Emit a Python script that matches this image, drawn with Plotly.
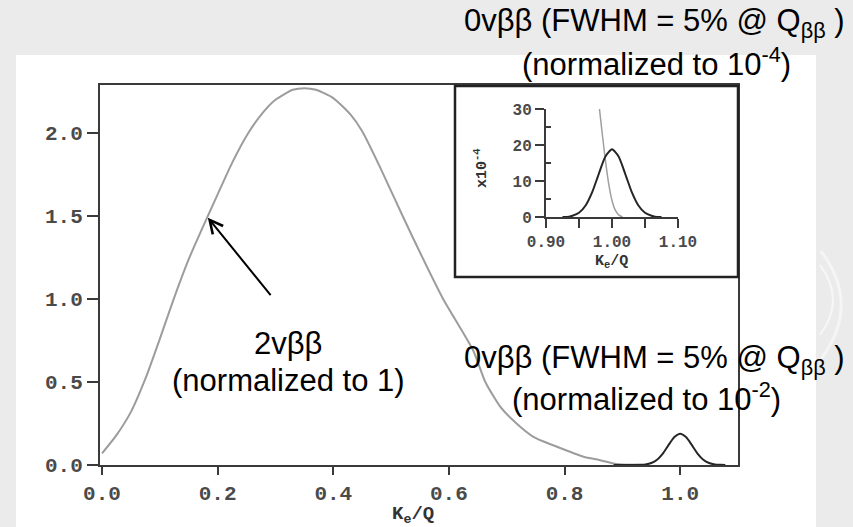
import plotly.graph_objects as go

W, H = 853, 527

# 2vββ summed electron energy spectrum, normalized to 1
k2v = [0.000, 0.025, 0.050, 0.075, 0.100, 0.125, 0.150, 0.183, 0.200, 0.225,
       0.253, 0.280, 0.300, 0.330, 0.350, 0.370, 0.400, 0.430, 0.450, 0.480,
       0.520, 0.550, 0.590, 0.642, 0.663, 0.689, 0.717, 0.746, 0.787, 0.833,
       0.860, 0.890, 0.919]
f2v = [0.07, 0.18, 0.32, 0.52, 0.76, 1.01, 1.24, 1.50, 1.63, 1.82,
       2.00, 2.13, 2.20, 2.26, 2.27, 2.26, 2.21, 2.11, 2.01, 1.80,
       1.50, 1.28, 1.00, 0.69, 0.50, 0.35, 0.25, 0.17, 0.11, 0.05,
       0.03, 0.006, 0.0]

# 0vββ peak (FWHM = 5% @ Qββ), normalized to 1e-2
k0v = [0.885, 0.930, 0.940, 0.950, 0.960, 0.970, 0.980, 0.990, 1.000,
       1.010, 1.020, 1.030, 1.040, 1.050, 1.060, 1.070, 1.078]
f0v = [0.0, 0.001, 0.003, 0.012, 0.032, 0.069, 0.121, 0.168, 0.188,
       0.168, 0.121, 0.069, 0.032, 0.012, 0.003, 0.001, 0.0]

# inset: endpoint region, in units of 1e-4
k2v_end = [0.981, 0.985, 0.990, 0.995, 1.000, 1.005, 1.010, 1.016]
f2v_end = [30.0, 23.5, 15.8, 9.2, 4.6, 1.9, 0.6, 0.0]

k0v_end = [0.925, 0.935, 0.940, 0.950, 0.960, 0.970, 0.980, 0.990, 1.000,
           1.010, 1.020, 1.030, 1.040, 1.050, 1.060, 1.065, 1.075]
f0v_end = [0.0, 0.1, 0.34, 1.17, 3.2, 6.9, 12.0, 16.8, 18.8,
           16.8, 12.0, 6.9, 3.2, 1.17, 0.34, 0.1, 0.0]

main_xticks = [0.0, 0.2, 0.4, 0.6, 0.8, 1.0]
main_yticks = [0.0, 0.5, 1.0, 1.5, 2.0]
inset_xticks = [0.90, 0.95, 1.00, 1.05, 1.10]
inset_xlabels = ["0.90", "", "1.00", "", "1.10"]
inset_yticks = [0, 10, 20, 30]


def fx(p):
    return p / W


def fy(p):
    return 1 - p / H


AX = "#3a3a3a"
MONO = "Liberation Mono, Courier New, monospace"
SANS = "Liberation Sans, Arial, sans-serif"

fig = go.Figure()

fig.add_trace(go.Scatter(x=k2v, y=f2v, mode="lines", xaxis="x", yaxis="y",
                         line=dict(color="#9c9c9c", width=2, shape="spline", smoothing=0.6)))
fig.add_trace(go.Scatter(x=k0v, y=f0v, mode="lines", xaxis="x", yaxis="y",
                         line=dict(color="#262626", width=2, shape="spline", smoothing=0.6)))
fig.add_trace(go.Scatter(x=k2v_end, y=f2v_end, mode="lines", xaxis="x2", yaxis="y2",
                         line=dict(color="#a0a0a0", width=1.5, shape="spline", smoothing=0.6)))
fig.add_trace(go.Scatter(x=k0v_end, y=f0v_end, mode="lines", xaxis="x2", yaxis="y2",
                         line=dict(color="#262626", width=2, shape="spline", smoothing=0.6)))

axis_common = dict(showline=True, linecolor=AX, linewidth=2, ticks="outside",
                   tickcolor=AX, tickwidth=2, showgrid=False, zeroline=False,
                   automargin=False)


def arc(cx, cy, r):
    # right-hand arc of a circle, in pixel units
    return (f"M {fx(cx + r * 0.5)},{fy(cy - r * 0.87)} "
            f"Q {fx(cx + r * 1.15)},{fy(cy)} {fx(cx + r * 0.5)},{fy(cy + r * 0.87)}")


fig.update_layout(
    width=W, height=H,
    margin=dict(l=0, r=0, t=0, b=0, pad=0, autoexpand=False),
    paper_bgcolor="#ebebeb",
    plot_bgcolor="rgba(0,0,0,0)",
    showlegend=False,
    xaxis=dict(domain=[fx(100), fx(738)], range=[-0.0035, 1.1], anchor="y",
               tickvals=main_xticks, ticktext=[f"{v:.1f}" for v in main_xticks],
               ticklen=8, mirror=True,
               tickfont=dict(family=MONO, size=21, color="#4a4a4a", weight="bold"),
               **axis_common),
    yaxis=dict(domain=[fy(465), fy(85)], range=[0, 2.289], anchor="x",
               tickvals=main_yticks, ticktext=[f"{v:.1f}" for v in main_yticks],
               ticklen=11, mirror=True,
               tickfont=dict(family=MONO, size=21, color="#4a4a4a", weight="bold"),
               **axis_common),
    xaxis2=dict(domain=[fx(546), fx(678)], range=[0.9, 1.1], anchor="y2",
                tickvals=inset_xticks, ticktext=inset_xlabels, ticklen=9,
                tickfont=dict(family=MONO, size=16, color="#4a4a4a", weight="bold"),
                **axis_common),
    yaxis2=dict(domain=[fy(217), fy(109)], range=[0, 30], anchor="x2",
                tickvals=inset_yticks, ticklen=9,
                minor=dict(tickvals=[5, 15, 25], ticks="inside", ticklen=5,
                           tickcolor=AX, tickwidth=2),
                tickfont=dict(family=MONO, size=16, color="#4a4a4a", weight="bold"),
                **axis_common),
    shapes=[
        # faint decorative swirl in the slide background
        dict(type="path", xref="paper", yref="paper", layer="below",
             path=arc(800, 300, 40), line=dict(color="rgba(255,255,255,0.6)", width=2)),
        dict(type="path", xref="paper", yref="paper", layer="below",
             path=arc(790, 305, 62), line=dict(color="rgba(255,255,255,0.5)", width=3)),
        # white page behind the figure
        dict(type="rect", xref="paper", yref="paper", layer="below",
             x0=fx(16), x1=fx(816), y0=fy(527), y1=fy(55),
             fillcolor="white", line=dict(width=0)),
        # inset frame
        dict(type="rect", xref="paper", yref="paper", layer="above",
             x0=fx(455), x1=fx(738), y0=fy(277), y1=fy(86),
             fillcolor="rgba(0,0,0,0)", line=dict(color="#222", width=2.5)),
    ],
)


def label(xp, yp, text, font, xanchor="center", angle=0):
    return dict(xref="paper", yref="paper", x=fx(xp), y=fy(yp), text=text,
                xanchor=xanchor, yanchor="middle", textangle=angle,
                showarrow=False, font=font)


ann = []
# axis titles
ann.append(label(413, 515, "<b>K<sub>e</sub>/Q</b>", dict(family=MONO, size=19, color="#333")))
ann.append(label(611, 262, "<b>K<sub>e</sub>/Q</b>", dict(family=MONO, size=15, color="#333")))
ann.append(label(481, 168, "<b>x10<sup>-4</sup></b>", dict(family=MONO, size=15, color="#333"),
                 angle=-90))
# curve labels
lab = dict(family=SANS, size=31, color="black")
ann.append(label(847, 23, "0vββ (FWHM = 5% @ Q<sub>ββ</sub> )", lab, xanchor="right"))
ann.append(label(793, 62, "(normalized to 10<sup>-4</sup>)", lab, xanchor="right"))
ann.append(label(288, 343, "2vββ", lab))
ann.append(label(288, 381, "(normalized to 1)", lab))
ann.append(label(847, 360, "0vββ (FWHM = 5% @ Q<sub>ββ</sub> )", lab, xanchor="right"))
ann.append(label(783, 397, "(normalized to 10<sup>-2</sup>)", lab, xanchor="right"))
# arrow pointing at the 2vββ curve
ann.append(dict(xref="x", yref="y", x=0.183, y=1.49, ax=64, ay=79, text="",
                showarrow=True, arrowhead=5, arrowsize=1.3, arrowwidth=2,
                arrowcolor="black"))
fig.update_layout(annotations=ann)

fig.write_html("out.html")
